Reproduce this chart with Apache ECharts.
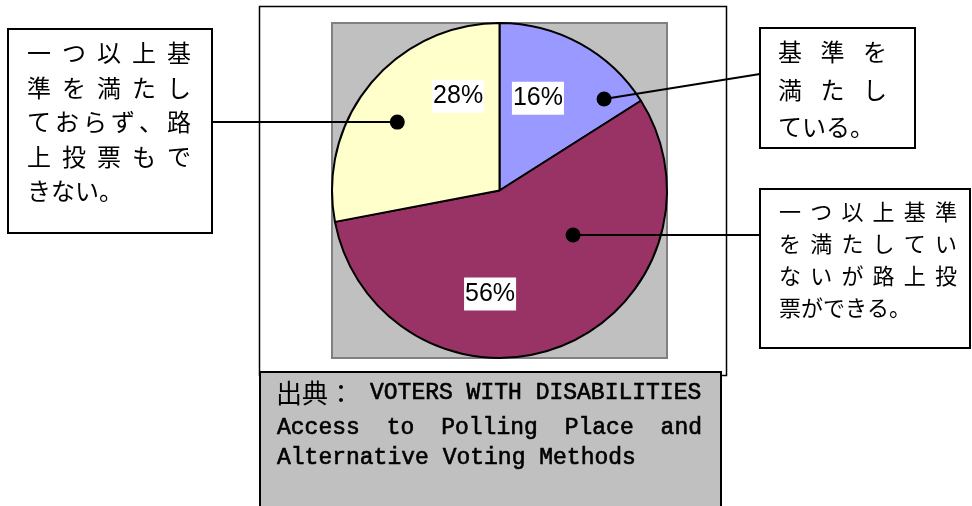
<!DOCTYPE html>
<html><head><meta charset="utf-8">
<script src="https://cdn.jsdelivr.net/npm/echarts@6/dist/echarts.min.js"></script>
<style>html,body{margin:0;padding:0;background:#fff}#c{width:972px;height:506px}</style>
</head><body><div id="c"></div>
<script>
// ---- data ----
const categories = ['基準を満たしている。', '一つ以上基準を満たしていないが路上投票ができる。', '一つ以上基準を満たしておらず、路上投票もできない。'];
const values = [16, 56, 28];
const labelTexts = ['16%', '56%', '28%'];
const calloutLines = [
  ['基準を', '満たし', 'ている。'],
  ['一つ以上基準', 'を満たしてい', 'ないが路上投', '票ができる。'],
  ['一つ以上基', '準を満たし', 'ておらず、路', '上投票もで', 'きない。']
];
const sourcePrefix = '出典：';
const sourceLines = ['VOTERS WITH DISABILITIES', 'Access to Polling Place and', 'Alternative Voting Methods'];

// ---- style / layout ----
const colors = ['#9999FF', '#993366', '#FFFFCC'];
const CJK = '"Noto Sans CJK JP", sans-serif';
const MONO = '"Liberation Mono", monospace';
const C = [499.5, 190.5], R = 167.5;
const labelPos = [{a: 22.6, r: 100}, {a: 185.2, r: 104}, {a: 336.3, r: 103}];
const anchorPos = [{a: 48.8, r: 139}, {a: 121.2, r: 86}, {a: 303.8, r: 123}];
const boxes = [
  {x: 760, y: 28, w: 155, h: 120, tx: 778, tw: 109, fs: 24, y0: 52, lh: 37.5, ex: 760, ey: 74},
  {x: 760, y: 189, w: 210, h: 159, tx: 779, tw: 178, fs: 22, y0: 212, lh: 32, ex: 760, ey: null},
  {x: 8, y: 29, w: 204, h: 204, tx: 27, tw: 164, fs: 24, y0: 53, lh: 34.5, ex: 212, ey: null}
];
function polar(p) {
  const t = p.a * Math.PI / 180;
  return [C[0] + p.r * Math.sin(t), C[1] - p.r * Math.cos(t)];
}

const g = [];
// outer frame and plot area
g.push({type: 'rect', z: 0, shape: {x: 259.5, y: 6.5, width: 467, height: 369}, style: {fill: '#fff', stroke: '#000', lineWidth: 1.5}});
g.push({type: 'rect', z: 1, shape: {x: 332, y: 23, width: 335, height: 335}, style: {fill: '#C0C0C0', stroke: '#808080', lineWidth: 2}});

// callouts
boxes.forEach((b, i) => {
  const d = polar(anchorPos[i]);
  const ey = b.ey == null ? d[1] : b.ey;
  g.push({type: 'line', z: 20, shape: {x1: d[0], y1: d[1], x2: b.ex, y2: ey}, style: {stroke: '#000', lineWidth: 2}});
  g.push({type: 'circle', z: 21, shape: {cx: d[0], cy: d[1], r: 7.5}, style: {fill: '#000'}});
  g.push({type: 'rect', z: 20, shape: {x: b.x, y: b.y, width: b.w, height: b.h}, style: {fill: '#fff', stroke: '#000', lineWidth: 2}});
  const lines = calloutLines[i];
  lines.forEach((ln, li) => {
    const chars = Array.from(ln);
    const justify = li < lines.length - 1;
    const pitch = justify ? (b.tw - b.fs) / (chars.length - 1) : b.fs;
    chars.forEach((ch, ci) => {
      g.push({type: 'text', z: 22, style: {text: ch, x: b.tx + ci * pitch, y: b.y0 + li * b.lh,
        fontSize: b.fs, fontFamily: CJK, fill: '#000', align: 'left', verticalAlign: 'middle'}});
    });
  });
});

// source box
g.push({type: 'rect', z: 20, shape: {x: 260, y: 372, width: 461, height: 150}, style: {fill: '#C0C0C0', stroke: '#000', lineWidth: 2}});
const mfs = 23, mcw = 0.6 * mfs, sx0 = 277, sx1 = 702;
const srcY = [393, 428, 458];
const monoStyle = {fontSize: mfs, fontFamily: MONO, fill: '#000', stroke: '#000', lineWidth: 0.6, verticalAlign: 'middle'};
g.push({type: 'text', z: 22, style: {text: sourcePrefix, x: sx0 - 1, y: srcY[0], fontSize: 26, fontFamily: CJK, fill: '#000', verticalAlign: 'middle'}});
g.push({type: 'text', z: 22, style: Object.assign({text: sourceLines[0], x: 370, y: srcY[0]}, monoStyle)});
(function () {
  const words = sourceLines[1].split(' ');
  const tot = words.reduce((s, w) => s + w.length * mcw, 0);
  const gap = (sx1 - sx0 - tot) / (words.length - 1);
  let x = sx0;
  words.forEach(w => {
    g.push({type: 'text', z: 22, style: Object.assign({text: w, x: x, y: srcY[1]}, monoStyle)});
    x += w.length * mcw + gap;
  });
})();
g.push({type: 'text', z: 22, style: Object.assign({text: sourceLines[2], x: sx0, y: srcY[2]}, monoStyle)});

const chart = echarts.init(document.getElementById('c'), null, {renderer: 'canvas'});
chart.setOption({
  animation: false,
  graphic: {elements: g},
  series: [{
    type: 'pie',
    z: 5,
    center: C,
    radius: R,
    startAngle: 90,
    clockwise: true,
    silent: true,
    itemStyle: {borderColor: '#000', borderWidth: 2},
    label: {
      show: true, position: 'inside',
      formatter: p => labelTexts[p.dataIndex],
      fontFamily: '"Liberation Sans", Arial, sans-serif', fontSize: 25, color: '#000',
      backgroundColor: '#fff', padding: [3, 1, 2, 1], lineHeight: 28,
      align: 'center', verticalAlign: 'middle'
    },
    labelLine: {show: false},
    labelLayout: function (params) {
      const p = polar(labelPos[params.dataIndex]);
      return {x: p[0], y: p[1], align: 'center', verticalAlign: 'middle'};
    },
    data: values.map((v, i) => ({name: categories[i], value: v, itemStyle: {color: colors[i]}}))
  }]
});
</script></body></html>
